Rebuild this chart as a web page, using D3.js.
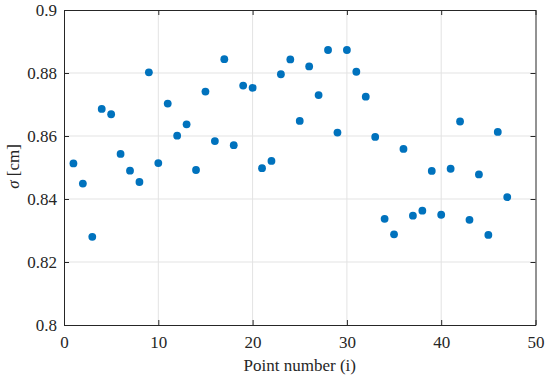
<!DOCTYPE html>
<html>
<head>
<meta charset="utf-8">
<script src="https://cdn.jsdelivr.net/npm/d3@7"></script>
<style>
  body { margin: 0; background: #fff; }
  svg { display: block; }
</style>
</head>
<body>
<div id="chart"></div>
<script>
// Point index and measured sigma (cm)
const pointIdx = d3.range(1, 48);
const sigmaVals = [
  0.8513, 0.8449, 0.8280, 0.8686, 0.8669, 0.8543, 0.8490, 0.8454, 0.8802, 0.8514,
  0.8703, 0.8601, 0.8637, 0.8492, 0.8741, 0.8584, 0.8844, 0.8571, 0.8760, 0.8753,
  0.8498, 0.8521, 0.8796, 0.8843, 0.8648, 0.8821, 0.8730, 0.8873, 0.8611, 0.8873,
  0.8804, 0.8725, 0.8597, 0.8337, 0.8288, 0.8559, 0.8347, 0.8363, 0.8489, 0.8350,
  0.8496, 0.8646, 0.8334, 0.8478, 0.8286, 0.8613, 0.8406
];
const xTicks = [0, 10, 20, 30, 40, 50];
const yTicks = [0.8, 0.82, 0.84, 0.86, 0.88, 0.9];

const W = 550, H = 379;
const margin = { top: 10, right: 14.5, bottom: 54, left: 64 };
const iw = W - margin.left - margin.right;
const ih = H - margin.top - margin.bottom;
const fontFamily = "'Liberation Serif', 'Times New Roman', serif";
const fontSize = '17px';

const svg = d3.select('#chart').append('svg').attr('width', W).attr('height', H);
const g = svg.append('g').attr('transform', `translate(${margin.left},${margin.top})`);

const x = d3.scaleLinear().domain([0, 50]).range([0, iw]);
const y = d3.scaleLinear().domain([0.8, 0.9]).range([ih, 0]);

const axisColor = '#262626';
const tickLen = 5;

// Grid
g.append('g').selectAll('line').data(xTicks.slice(1, -1)).join('line')
  .attr('x1', d => x(d)).attr('x2', d => x(d)).attr('y1', 0).attr('y2', ih)
  .attr('stroke', '#e3e3e3').attr('stroke-width', 1);
g.append('g').selectAll('line').data(yTicks.slice(1, -1)).join('line')
  .attr('x1', 0).attr('x2', iw).attr('y1', d => y(d)).attr('y2', d => y(d))
  .attr('stroke', '#e3e3e3').attr('stroke-width', 1);

// Points
g.append('g').selectAll('circle').data(pointIdx).join('circle')
  .attr('cx', d => x(d)).attr('cy', (d, i) => y(sigmaVals[i]))
  .attr('r', 3.9).attr('fill', '#0072BD');

// Axes (ticks inward on all sides, box)
const fmtY = d => d3.format('.2~f')(d);
const axB = g.append('g').attr('transform', `translate(0,${ih})`)
  .call(d3.axisBottom(x).tickValues(xTicks).tickSizeInner(-tickLen).tickSizeOuter(0).tickPadding(11));
const axL = g.append('g')
  .call(d3.axisLeft(y).tickValues(yTicks).tickFormat(fmtY).tickSizeInner(-tickLen).tickSizeOuter(0).tickPadding(7));
const axT = g.append('g')
  .call(d3.axisTop(x).tickValues(xTicks).tickSizeInner(-tickLen).tickSizeOuter(0).tickFormat(''));
const axR = g.append('g').attr('transform', `translate(${iw},0)`)
  .call(d3.axisRight(y).tickValues(yTicks).tickSizeInner(-tickLen).tickSizeOuter(0).tickFormat(''));

[axB, axL, axT, axR].forEach(a => {
  a.select('.domain').attr('stroke', axisColor).attr('stroke-width', 1);
  a.selectAll('.tick line').attr('stroke', axisColor).attr('stroke-width', 1);
  a.selectAll('.tick text').attr('fill', axisColor)
    .style('font-family', fontFamily).style('font-size', fontSize);
});

// Axis labels
svg.append('text')
  .attr('x', margin.left + iw / 2).attr('y', 371)
  .attr('text-anchor', 'middle').attr('fill', axisColor)
  .style('font-family', fontFamily).style('font-size', fontSize)
  .text('Point number (i)');

const yl = svg.append('text')
  .attr('transform', `translate(19,${margin.top + ih / 2 - 1}) rotate(-90)`)
  .attr('text-anchor', 'middle').attr('fill', axisColor)
  .style('font-family', fontFamily).style('font-size', fontSize);
yl.append('tspan').style('font-style', 'italic').text('σ');
yl.append('tspan').text(' [cm]');
</script>
</body>
</html>
